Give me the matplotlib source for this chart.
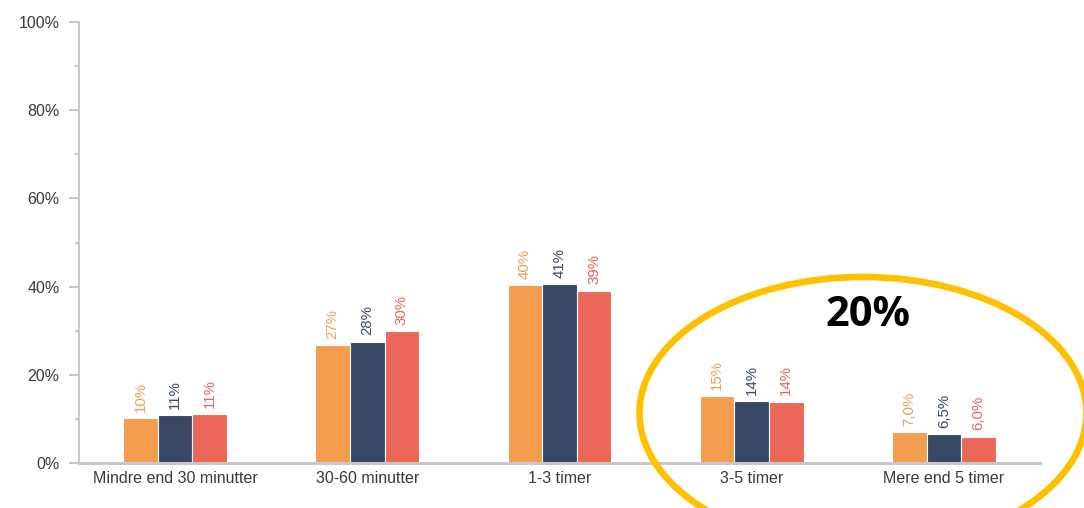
import numpy as np
import matplotlib.pyplot as plt
from matplotlib.patches import Ellipse
from matplotlib.ticker import MultipleLocator, FuncFormatter

plt.rcParams['font.family'] = ['Liberation Sans', 'DejaVu Sans']

categories = ['Mindre end 30 minutter', '30-60 minutter', '1-3 timer', '3-5 timer', 'Mere end 5 timer']
orange_vals = [10.2, 26.8, 40.4, 15.1, 7.0]
navy_vals = [10.8, 27.5, 40.6, 14.1, 6.5]
red_vals = [11.0, 29.9, 39.1, 13.9, 6.0]
orange_lbl = ['10%', '27%', '40%', '15%', '7,0%']
navy_lbl = ['11%', '28%', '41%', '14%', '6,5%']
red_lbl = ['11%', '30%', '39%', '14%', '6,0%']

bar_cols = ['#F59D4F', '#384763', '#EB6858']
txt_cols = ['#EE9F5C', '#3C4A66', '#E0675C']

fig = plt.figure(figsize=(10.84, 5.08), dpi=100)
ax = fig.add_axes([79/1084, 45/508, (1040-79)/1084, (463-22)/508])

x = np.arange(len(categories))
w = 0.18
series = [(orange_vals, orange_lbl), (navy_vals, navy_lbl), (red_vals, red_lbl)]
for i, (vals, lbls) in enumerate(series):
    pos = x + (i - 1) * w
    ax.bar(pos, vals, width=w, color=bar_cols[i], edgecolor='white', linewidth=0.8, zorder=2)
    for p, v, t in zip(pos, vals, lbls):
        ax.annotate(t, (p, v), xytext=(0, 4.5), textcoords='offset points', rotation=90,
                    ha='center', va='bottom', fontsize=10.8, color=txt_cols[i])

ax.set_xlim(-0.5, len(categories) - 0.5)
ax.set_ylim(0, 100)
ax.yaxis.set_major_locator(MultipleLocator(20))
ax.yaxis.set_minor_locator(MultipleLocator(10))
ax.yaxis.set_major_formatter(FuncFormatter(lambda v, _: '%d%%' % v))
ax.set_xticks(x)
ax.set_xticklabels(categories)

for s in ['top', 'right']:
    ax.spines[s].set_visible(False)
for s in ['left', 'bottom']:
    ax.spines[s].set_color('#C8C8C8')
ax.spines['left'].set_linewidth(1.5)
ax.spines['bottom'].set_linewidth(2.2)
ax.spines['bottom'].set_zorder(3)

ax.tick_params(axis='y', which='major', length=7, width=1.5, color='#C8C8C8', pad=7,
               labelsize=11.5, labelcolor='#3a3a3a')
ax.tick_params(axis='y', which='minor', length=3, width=1.5, color='#C8C8C8')
ax.tick_params(axis='x', length=0, pad=6, labelsize=11.5, labelcolor='#3a3a3a')

ell = Ellipse((863/1084, 1 - 413/508), 447/1084, 272/508, transform=fig.transFigure,
              fill=False, edgecolor='#FFC000', linewidth=4.8, clip_on=False)
fig.patches.append(ell)
fig.text(868/1084, 1 - 316/508, '20%', fontsize=30, fontweight='bold', color='black',
         ha='center', va='center', family=['Open Sans', 'DejaVu Sans'])

fig.savefig('out.png', dpi=100)
